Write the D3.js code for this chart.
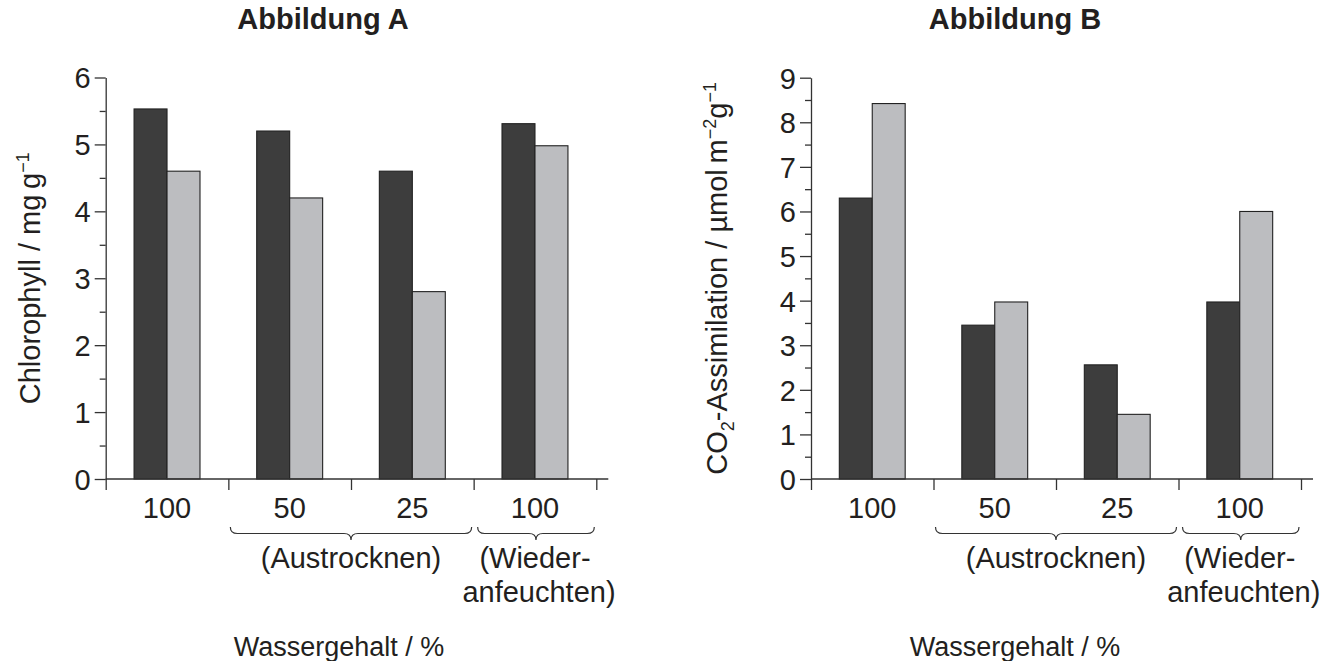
<!DOCTYPE html>
<html>
<head>
<meta charset="utf-8">
<script src="https://cdn.jsdelivr.net/npm/d3@7"></script>
<style>
  body { margin: 0; background: #fff; }
  svg text { font-family: "Liberation Sans", Arial, sans-serif; fill: #231f20; }
</style>
</head>
<body>
<svg id="chart" width="1333" height="661"></svg>
<script>
// x categories (water content, %) - same for both panels
const tickLabels = ['100', '50', '25', '100'];
const seriesKeys = ['dark', 'light'];

// Abbildung A: chlorophyll, mg g^-1
const chloroDark = [5.53, 5.2, 4.6, 5.31];
const chloroLight = [4.6, 4.2, 2.8, 4.98];
const chloroTicks = [0, 1, 2, 3, 4, 5, 6];

// Abbildung B: CO2 assimilation, umol m^-2 g^-1
const co2Dark = [6.3, 3.45, 2.56, 3.97];
const co2Light = [8.42, 3.97, 1.45, 6.0];
const co2Ticks = [0, 1, 2, 3, 4, 5, 6, 7, 8, 9];

const colors = { dark: '#3d3d3d', light: '#bcbdc0' };
const lineColor = '#333';
const fs = 29;

const svg = d3.select('#chart');

function drawPanel(opts) {
  const g = svg.append('g');
  const { left, right, top, bottom } = opts;

  const x = d3.scaleBand().domain(d3.range(tickLabels.length)).range([left, right]).padding(0);
  const inner = d3.scaleBand().domain(seriesKeys).range([0, x.bandwidth()]).paddingInner(0).paddingOuter(0.86);
  const yMax = d3.max(opts.ticks);
  const y = d3.scaleLinear().domain([0, yMax]).range([bottom, top]);

  // bars
  const rows = tickLabels.map((t, i) => ({ i, dark: opts.dark[i], light: opts.light[i] }));
  g.selectAll('g.grp')
    .data(rows)
    .join('g')
    .attr('class', 'grp')
    .attr('transform', d => `translate(${x(d.i)},0)`)
    .selectAll('rect')
    .data(d => seriesKeys.map(k => ({ k, v: d[k] })))
    .join('rect')
    .attr('x', d => inner(d.k))
    .attr('width', inner.bandwidth())
    .attr('y', d => y(d.v))
    .attr('height', d => y(0) - y(d.v))
    .attr('fill', d => colors[d.k])
    .attr('stroke', '#222')
    .attr('stroke-width', 1.1);

  // y axis: minor ticks first, then major with labels
  const minor = d3.range(0.5, yMax, 1);
  g.append('g')
    .attr('transform', `translate(${left},0)`)
    .call(d3.axisLeft(y).tickValues(minor).tickSize(6).tickFormat(''))
    .call(a => a.select('.domain').remove());

  const yAx = g.append('g')
    .attr('transform', `translate(${left},0)`)
    .call(d3.axisLeft(y).tickValues(opts.ticks).tickSize(11).tickSizeOuter(0).tickPadding(4).tickFormat(d3.format('d')));
  yAx.selectAll('text').style('font-size', fs + 'px').attr('dy', '0.36em');

  // x axis: ticks at group boundaries
  const xb = d3.scaleLinear().domain([0, tickLabels.length]).range([left, right]);
  const xAx = g.append('g')
    .attr('transform', `translate(0,${bottom})`)
    .call(d3.axisBottom(xb).tickValues(d3.range(tickLabels.length + 1)).tickSize(11).tickSizeOuter(0).tickFormat(''));
  xAx.select('.domain').attr('d', `M${left},0H${right + 12}`);

  g.selectAll('.domain, .tick line').attr('stroke', lineColor).attr('stroke-width', 1.3);

  // category labels
  g.selectAll('text.cat')
    .data(tickLabels)
    .join('text')
    .attr('class', 'cat')
    .attr('x', (d, i) => x(i) + x.bandwidth() / 2)
    .attr('y', bottom + 39)
    .attr('text-anchor', 'middle')
    .style('font-size', fs + 'px')
    .text(d => d);

  // braces
  function brace(x1, x2, y0, h, r) {
    const m = (x1 + x2) / 2, hh = h / 2;
    return `M${x1},${y0} Q${x1},${y0 + hh} ${x1 + r},${y0 + hh} L${m - r},${y0 + hh}` +
      ` Q${m},${y0 + hh} ${m},${y0 + h} Q${m},${y0 + hh} ${m + r},${y0 + hh}` +
      ` L${x2 - r},${y0 + hh} Q${x2},${y0 + hh} ${x2},${y0}`;
  }
  const by = bottom + 48;
  g.append('path').attr('d', brace(xb(1) + 2, xb(3) - 2, by, 13, 7))
    .attr('fill', 'none').attr('stroke', lineColor).attr('stroke-width', 1.2);
  g.append('path').attr('d', brace(xb(3) + 4, xb(4) - 2, by, 13, 7))
    .attr('fill', 'none').attr('stroke', lineColor).attr('stroke-width', 1.2);

  g.append('text').attr('x', xb(2)).attr('y', bottom + 89).attr('text-anchor', 'middle')
    .style('font-size', fs + 'px').text('(Austrocknen)');
  g.append('text').attr('x', xb(3.5)).attr('y', bottom + 89).attr('text-anchor', 'middle')
    .style('font-size', fs + 'px').text('(Wieder-');
  g.append('text').attr('x', xb(3.5) + 4).attr('y', bottom + 123).attr('text-anchor', 'middle')
    .style('font-size', fs + 'px').text('anfeuchten)');

  // x title
  g.append('text').attr('x', opts.xTitleX).attr('y', bottom + 177).attr('text-anchor', 'middle')
    .style('font-size', '27px').text('Wassergehalt / %');

  // panel title
  g.append('text').attr('x', opts.titleX).attr('y', 29).attr('text-anchor', 'middle')
    .style('font-size', fs + 'px').style('font-weight', 'bold').text(opts.title);

  // y title
  const yt = g.append('text')
    .attr('transform', `translate(${opts.yTitleX},${(top + bottom) / 2}) rotate(-90)`)
    .attr('text-anchor', 'middle')
    .style('font-size', fs + 'px');
  opts.yTitle(yt);
}

drawPanel({
  left: 105.7, right: 596.3, top: 77.5, bottom: 479,
  dark: chloroDark, light: chloroLight, ticks: chloroTicks,
  title: 'Abbildung A', titleX: 323, xTitleX: 339, yTitleX: 40,
  yTitle: t => {
    t.append('tspan').text('Chlorophyll / mg\u2009g');
    t.append('tspan').attr('dy', -11).style('font-size', '18px').text('\u22121');
  }
});

drawPanel({
  left: 811, right: 1301, top: 77.7, bottom: 479,
  dark: co2Dark, light: co2Light, ticks: co2Ticks,
  title: 'Abbildung B', titleX: 1015, xTitleX: 1015, yTitleX: 727,
  yTitle: t => {
    t.append('tspan').text('CO');
    t.append('tspan').attr('dy', 7).style('font-size', '18px').text('2');
    t.append('tspan').attr('dy', -7).text('-Assimilation / \u00b5mol\u2009m');
    t.append('tspan').attr('dy', -11).style('font-size', '18px').text('\u22122');
    t.append('tspan').attr('dy', 11).text('g');
    t.append('tspan').attr('dy', -11).style('font-size', '18px').text('\u22121');
  }
});
</script>
</body>
</html>
